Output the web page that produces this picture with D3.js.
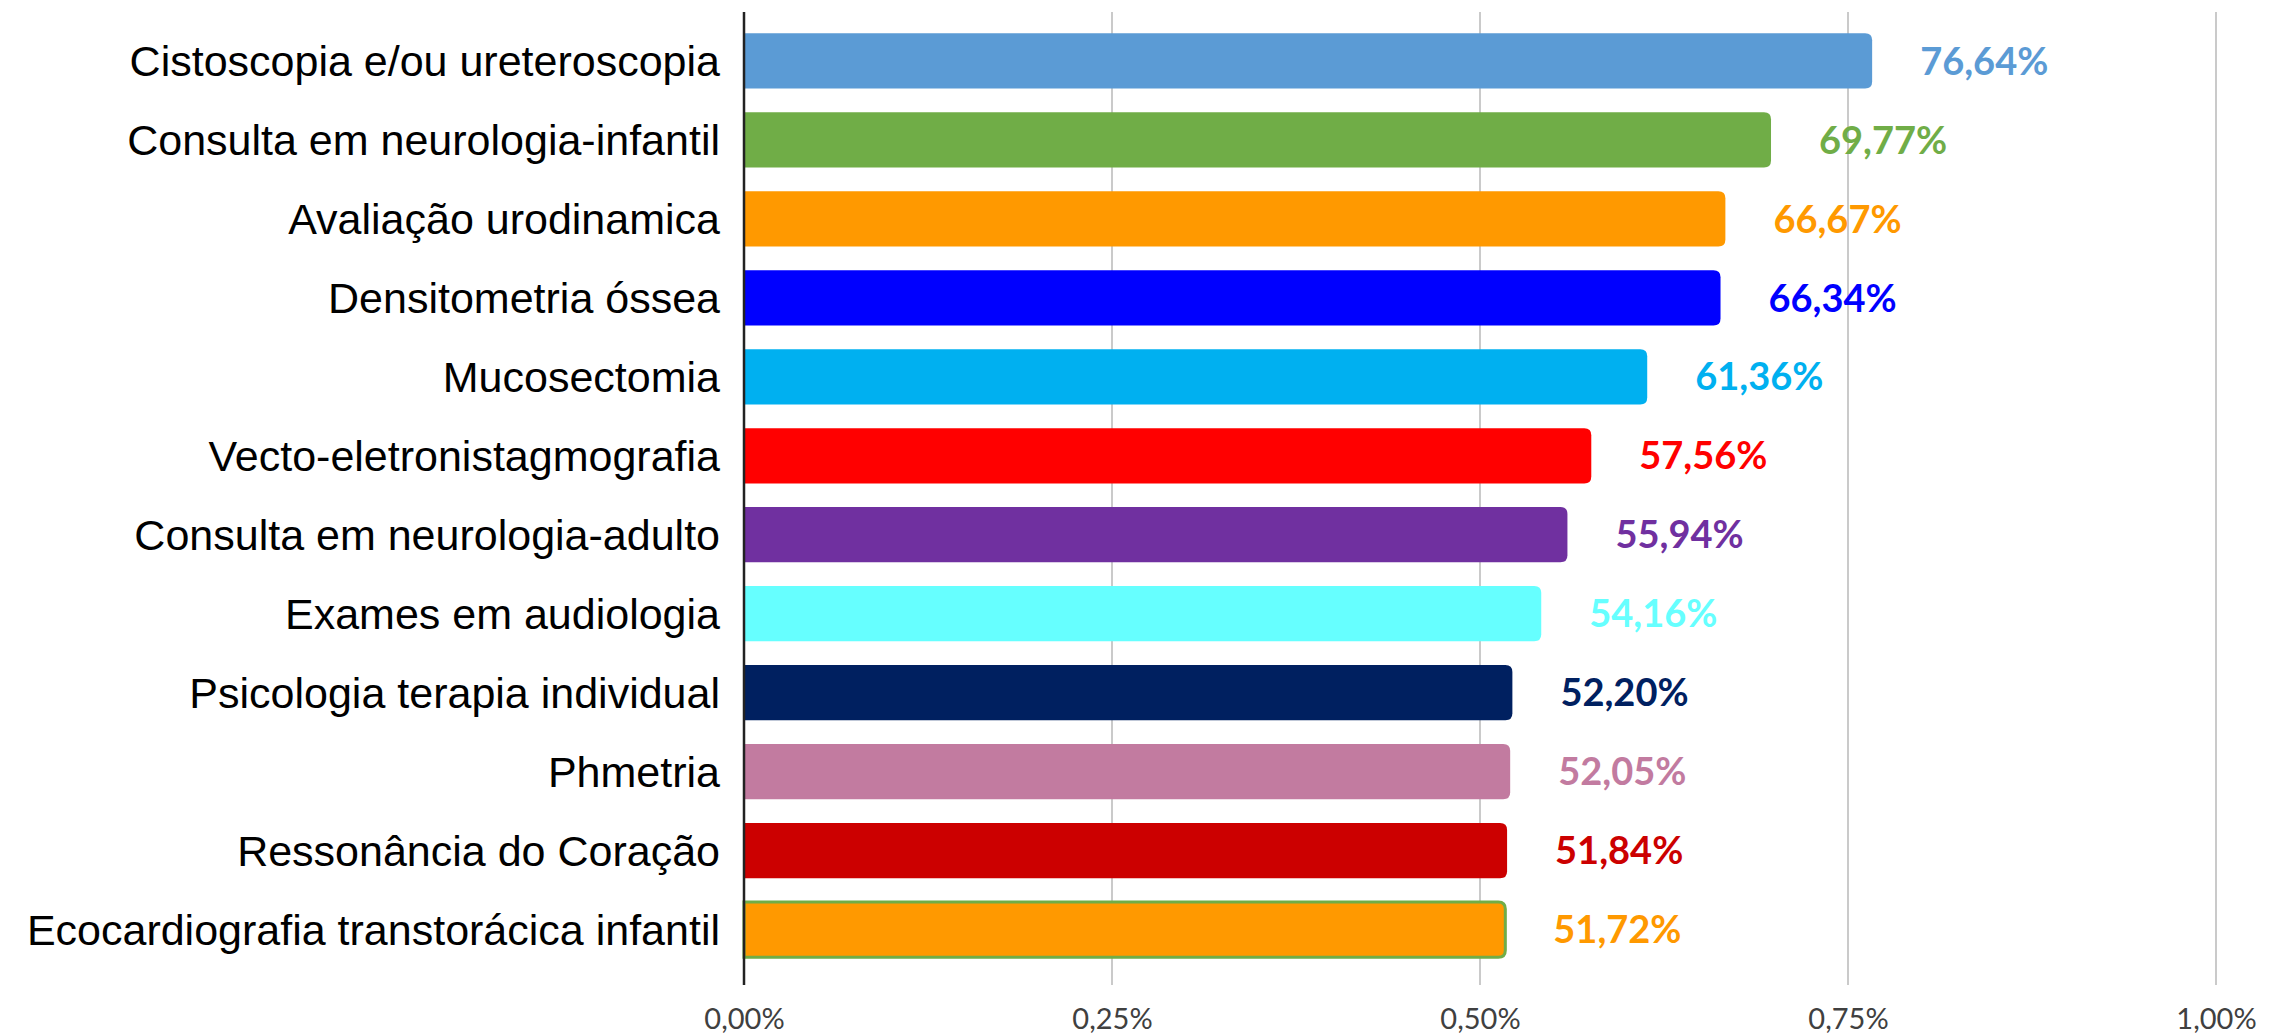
<!DOCTYPE html>
<html>
<head>
<meta charset="utf-8">
<script src="https://cdn.jsdelivr.net/npm/d3@7"></script>
<style>
  html, body { margin: 0; padding: 0; background: #ffffff; }
  svg { display: block; }
</style>
</head>
<body>
<svg id="chart" width="2293" height="1035"></svg>
<script>
const categories = [
  "Cistoscopia e/ou ureteroscopia",
  "Consulta em neurologia-infantil",
  "Avaliação urodinamica",
  "Densitometria óssea",
  "Mucosectomia",
  "Vecto-eletronistagmografia",
  "Consulta em neurologia-adulto",
  "Exames em audiologia",
  "Psicologia terapia individual",
  "Phmetria",
  "Ressonância do Coração",
  "Ecocardiografia transtorácica infantil"
];
const values = [0.7664, 0.6977, 0.6667, 0.6634, 0.6136, 0.5756, 0.5594, 0.5416, 0.5220, 0.5205, 0.5184, 0.5172];
const valueLabels = ["76,64%", "69,77%", "66,67%", "66,34%", "61,36%", "57,56%", "55,94%", "54,16%", "52,20%", "52,05%", "51,84%", "51,72%"];
const colors = ["#5B9BD5", "#70AD47", "#FF9900", "#0000FF", "#00B0F0", "#FF0000", "#7030A0", "#66FFFF", "#002060", "#C27BA0", "#CC0000", "#FF9900"];
const borderColors = [null, null, null, null, null, null, null, null, null, null, null, "#70AD47"];
const tickValues = [0, 0.25, 0.5, 0.75, 1.0];
const tickLabels = ["0,00%", "0,25%", "0,50%", "0,75%", "1,00%"];

const svg = d3.select("#chart");
const x = d3.scaleLinear().domain([0, 1]).range([744, 2216]);
const y = d3.scaleBand().domain(categories).range([21.5, 969]).paddingInner(0.3).paddingOuter(0.15);
const gridTop = 12, gridBottom = 985;

// gridlines
svg.append("g").selectAll("line").data(tickValues.slice(1)).join("line")
  .attr("x1", d => x(d)).attr("x2", d => x(d))
  .attr("y1", gridTop).attr("y2", gridBottom)
  .attr("stroke", "#CACACA").attr("stroke-width", 2);

// tick labels via axis
const xAxis = d3.axisBottom(x).tickValues(tickValues).tickFormat((d, i) => tickLabels[i]).tickSize(0).tickPadding(0);
const ax = svg.append("g").attr("transform", `translate(0, ${gridBottom + 34})`).call(xAxis);
ax.select(".domain").remove();
ax.selectAll("text")
  .attr("dy", "0.35em")
  .attr("font-family", "Lato, 'Open Sans', sans-serif")
  .attr("font-size", 29)
  .attr("fill", "#404040");

// bars with rounded right corners
const r = 7;
function barPath(x0, x1, y0, h) {
  const rr = Math.min(r, (x1 - x0) / 2, h / 2);
  return `M${x0},${y0} H${x1 - rr} Q${x1},${y0} ${x1},${y0 + rr} V${y0 + h - rr} Q${x1},${y0 + h} ${x1 - rr},${y0 + h} H${x0} Z`;
}
svg.append("g").selectAll("path").data(categories).join("path")
  .attr("d", (c, i) => barPath(x(0), x(values[i]), y(c), y.bandwidth()))
  .attr("fill", (c, i) => colors[i])
  .attr("stroke", (c, i) => borderColors[i] || "none")
  .attr("stroke-width", 3);

// y axis line
svg.append("line")
  .attr("x1", x(0)).attr("x2", x(0))
  .attr("y1", gridTop).attr("y2", gridBottom)
  .attr("stroke", "#222").attr("stroke-width", 2.5);

// category labels
svg.append("g").selectAll("text").data(categories).join("text")
  .attr("x", 720)
  .attr("y", c => y(c) + y.bandwidth() / 2)
  .attr("dy", "0.36em")
  .attr("text-anchor", "end")
  .attr("font-family", "'Liberation Sans', Arial, sans-serif")
  .attr("font-size", 43)
  .attr("fill", "#000")
  .text(c => c);

// value labels
svg.append("g").selectAll("text").data(categories).join("text")
  .attr("x", (c, i) => x(values[i]) + 48)
  .attr("y", c => y(c) + y.bandwidth() / 2)
  .attr("dy", "0.36em")
  .attr("font-family", "Lato, 'Open Sans', sans-serif")
  .attr("font-weight", 700)
  .attr("font-size", 38)
  .attr("fill", (c, i) => colors[i])
  .text((c, i) => valueLabels[i]);
</script>
</body>
</html>
